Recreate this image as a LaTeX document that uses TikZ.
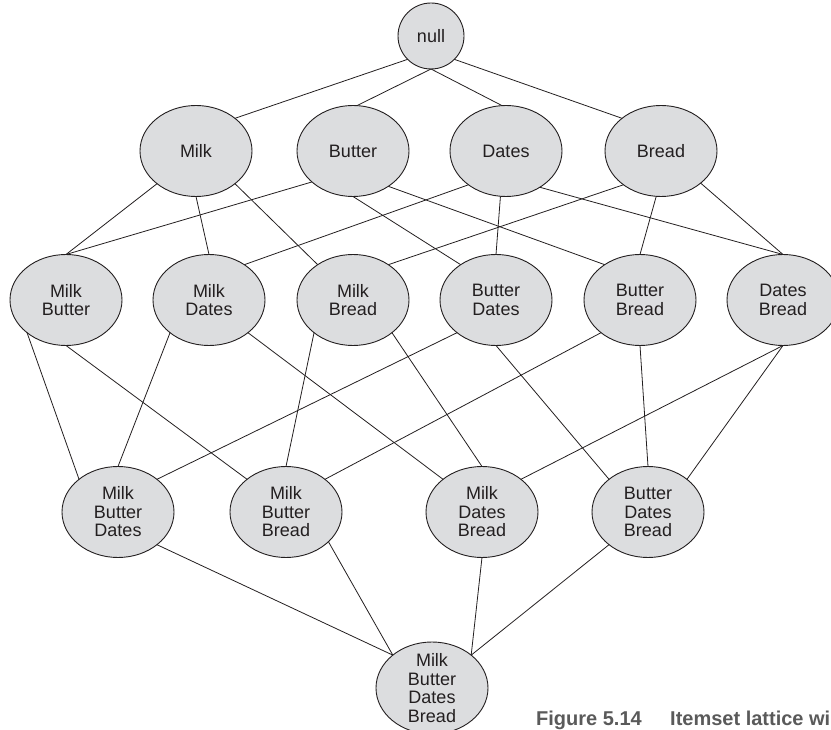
\documentclass[tikz,border=0pt]{standalone}
\usepackage{fontspec}
\setmainfont{Liberation Sans}
\usetikzlibrary{shapes.geometric}
\definecolor{ink}{RGB}{35,31,32}
\definecolor{cellfill}{RGB}{220,221,223}
\definecolor{capgray}{RGB}{90,90,90}
\begin{document}
\begin{tikzpicture}[x=1pt,y=-1pt,
  ell/.style={ellipse, draw=ink, line width=0.9pt, fill=cellfill,
    minimum width=112pt, minimum height=91pt, inner sep=0pt, outer sep=0pt},
  lbl/.style={font=\fontsize{18}{18.5}\selectfont, text=ink, align=center, inner sep=0pt},
  link/.style={draw=ink, line width=0.8pt},
  capt/.style={font=\fontsize{20}{20}\selectfont\bfseries, text=capgray, inner sep=0pt}]
\useasboundingbox (0,0) rectangle (831,730);
\clip (0,0) rectangle (831,730);

% nodes
\node[ell, minimum width=66pt, minimum height=66pt] (null) at (431,36) {};
\node[ell] (milk)   at (196,151) {};
\node[ell] (butter) at (353,151) {};
\node[ell] (dates)  at (506,151) {};
\node[ell] (bread)  at (661,151) {};
\node[ell] (mb)  at (66,300) {};
\node[ell] (md)  at (209,300) {};
\node[ell] (mbr) at (353,300) {};
\node[ell] (bd)  at (496,300) {};
\node[ell] (bbr) at (640,300) {};
\node[ell] (db)  at (783,300) {};
\node[ell] (mbd)  at (118,512) {};
\node[ell] (mbbr) at (286,512) {};
\node[ell] (mdbr) at (482,512) {};
\node[ell] (bdbr) at (648,512) {};
\node[ell, minimum height=92pt] (all) at (432,688) {};

% labels
\node[lbl] (tnull) at (null) {null};
\node[lbl] (tmilk) at (milk) {Milk};
\node[lbl] (tbutter) at (butter) {Butter};
\node[lbl] (tdates) at (dates) {Dates};
\node[lbl] (tbread) at (bread) {Bread};
\node[lbl] (tmb) at (mb) {Milk\\Butter};
\node[lbl] (tmd) at (md) {Milk\\Dates};
\node[lbl] (tmbr) at (mbr) {Milk\\Bread};
\node[lbl] (tbd) at (bd) {Butter\\Dates};
\node[lbl] (tbbr) at (bbr) {Butter\\Bread};
\node[lbl] (tdb) at (db) {Dates\\Bread};
\node[lbl] (tmbd) at (mbd) {Milk\\Butter\\Dates};
\node[lbl] (tmbbr) at (mbbr) {Milk\\Butter\\Bread};
\node[lbl] (tmdbr) at (mdbr) {Milk\\Dates\\Bread};
\node[lbl] (tbdbr) at (bdbr) {Butter\\Dates\\Bread};
\node[lbl] (tall) at (all) {Milk\\Butter\\Dates\\Bread};

% connectors: null -> singletons
\draw[link] (null.225) -- (milk.40);
\draw[link] (null.270) -- (butter.85);
\draw[link] (null.270) -- (dates.95);
\draw[link] (null.315) -- (bread.140);

% singletons -> pairs
\draw[link] (milk.220) -- (mb.90);
\draw[link] (milk.270) -- (md.90);
\draw[link] (milk.320) -- (mbr.135);
\draw[link] (butter.217) -- (mb.90);
\draw[link] (butter.270) -- (bd.135);
\draw[link] (butter.315) -- (bbr.135);
\draw[link] (dates.222) -- (md.45);
\draw[link] (dates.263) -- (bd.90);
\draw[link] (dates.313) -- (db.90);
\draw[link] (bread.222) -- (mbr.45);
\draw[link] (bread.264) -- (bbr.90);
\draw[link] (bread.321) -- (db.90);

% pairs -> triples
\draw[link] (mb.220) -- (mbd.140);
\draw[link] (mb.270) -- (mbbr.140);
\draw[link] (md.220) -- (mbd.90);
\draw[link] (md.320) -- (mdbr.140);
\draw[link] (mbr.220) -- (mbbr.90);
\draw[link] (mbr.320) -- (mdbr.90);
\draw[link] (bd.220) -- (mbd.40);
\draw[link] (bd.270) -- (bdbr.140);
\draw[link] (bbr.220) -- (mbbr.40);
\draw[link] (bbr.270) -- (bdbr.90);
\draw[link] (db.270) -- (mdbr.40);
\draw[link] (db.270) -- (bdbr.40);

% triples -> full set
\draw[link] (mbd.320) -- (all.140);
\draw[link] (mbbr.325) -- (all.140);
\draw[link] (mdbr.270) -- (all.40);
\draw[link] (bdbr.220) -- (all.40);

% caption (clipped at the right edge)
\node[capt, anchor=base east] (capnum) at (642,725) {Figure 5.14};
\node[capt, anchor=base west] (captxt) at (670,725) {Itemset lattice wi};
\end{tikzpicture}
\end{document}
